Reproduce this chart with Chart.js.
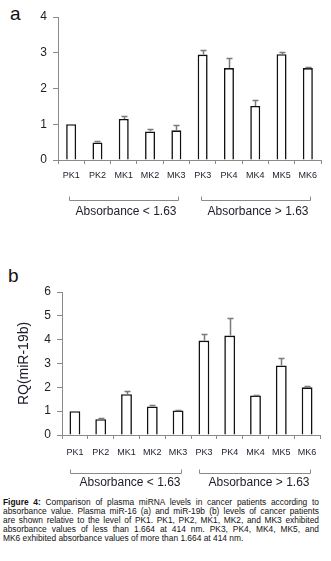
<!DOCTYPE html>
<html>
<head>
<meta charset="utf-8">
<script src="https://cdn.jsdelivr.net/npm/chart.js@4/dist/chart.umd.min.js"></script>
<style>
  html, body { margin: 0; padding: 0; background: #fff; }
  body { width: 331px; height: 561px; position: relative; overflow: hidden; font-family: 'Liberation Sans', Arial, sans-serif; }
  canvas { position: absolute; left: 0; }
  #ca { top: 0; }
  #cb { top: 240px; }
  .panel { position: absolute; font-size: 19px; line-height: 19px; color: #111; }
  #caption { position: absolute; left: 3px; top: 498px; width: 316px; font-size: 8.4px; line-height: 9.1px; color: #111; }
  #caption div { text-align: justify; text-align-last: justify; white-space: nowrap; }
  #caption div.last { text-align-last: left; }
</style>
</head>
<body>
<div class="panel" style="left:10px; top:4px;">a</div>
<div class="panel" style="left:8px; top:266px;">b</div>
<canvas id="ca" width="331" height="230"></canvas>
<canvas id="cb" width="331" height="252"></canvas>
<div id="caption">
  <div><b>Figure 4:</b> Comparison of plasma miRNA levels in cancer patients according to</div>
  <div>absorbance value. Plasma miR-16 (a) and miR-19b (b) levels of cancer patients</div>
  <div>are shown relative to the level of PK1. PK1, PK2, MK1, MK2, and MK3 exhibited</div>
  <div>absorbance values of less than 1.664 at 414 nm. PK3, PK4, MK4, MK5, and</div>
  <div class="last">MK6 exhibited absorbance values of more than 1.664 at 414 nm.</div>
</div>
<script>
const categories = ['PK1', 'PK2', 'MK1', 'MK2', 'MK3', 'PK3', 'PK4', 'MK4', 'MK5', 'MK6'];
const mir16 = [1.0, 0.49, 1.15, 0.80, 0.83, 2.95, 2.57, 1.51, 2.96, 2.57];
const mir16Err = [0, 0.05, 0.07, 0.08, 0.14, 0.13, 0.29, 0.18, 0.06, 0.03];
const mir19b = [1.0, 0.66, 1.71, 1.20, 1.03, 3.96, 4.17, 1.66, 2.92, 2.00];
const mir19bErr = [0, 0.04, 0.12, 0.07, 0.02, 0.28, 0.75, 0.03, 0.30, 0.06];
const yMaxA = 4;
const yMaxB = 6;
const groupLabels = ['Absorbance < 1.63', 'Absorbance > 1.63'];
const groupFrom = [0, 5];
const groupTo = [4, 9];
const yTitleB = 'RQ(miR-19b)';

const FONT = "'Liberation Sans', Arial, sans-serif";
const AXIS = '#8a8a8a';
const TXT = '#1c1c2a';

const errorBarPlugin = {
  id: 'errbars',
  afterDatasetsDraw(chart, args, opts) {
    const { ctx, scales: { x, y } } = chart;
    const data = chart.data.datasets[0].data;
    ctx.save();
    ctx.strokeStyle = opts.color;
    ctx.lineWidth = opts.width;
    data.forEach((v, i) => {
      const e = opts.errors[i];
      if (!e) return;
      const px = Math.round(x.getPixelForValue(i)) + 0.5;
      const y0 = y.getPixelForValue(v);
      const y1 = Math.round(y.getPixelForValue(v + e)) + 0.5;
      ctx.beginPath();
      ctx.moveTo(px, y0);
      ctx.lineTo(px, y1);
      ctx.moveTo(px - opts.cap, y1);
      ctx.lineTo(px + opts.cap, y1);
      ctx.stroke();
    });
    ctx.restore();
  }
};

const bracketPlugin = {
  id: 'brackets',
  afterDraw(chart, args, opts) {
    const { ctx, scales: { x }, chartArea } = chart;
    ctx.save();
    ctx.strokeStyle = AXIS;
    ctx.lineWidth = 1;
    ctx.fillStyle = TXT;
    ctx.font = '12px ' + FONT;
    ctx.textAlign = 'center';
    ctx.textBaseline = 'middle';
    const by = Math.round(chartArea.bottom + opts.bracketDy) + 0.5;
    groupLabels.forEach((lab, g) => {
      const x1 = Math.round(x.getPixelForValue(groupFrom[g]) - opts.padL) + 0.5;
      const x2 = Math.round(x.getPixelForValue(groupTo[g]) + opts.padR) + 0.5;
      ctx.beginPath();
      ctx.moveTo(x1, by - 4);
      ctx.lineTo(x1, by);
      ctx.lineTo(x2, by);
      ctx.lineTo(x2, by - 4);
      ctx.stroke();
      ctx.fillText(lab, (x1 + x2) / 2 + opts.labelDx, chartArea.bottom + opts.labelDy);
    });
    ctx.restore();
  }
};

function makeChart(id, values, errs, yMax, cfg) {
  return new Chart(document.getElementById(id), {
    type: 'bar',
    data: {
      labels: categories,
      datasets: [{
        data: values,
        backgroundColor: '#ffffff',
        borderColor: '#111111',
        borderWidth: 1.6,
        borderSkipped: 'bottom',
        barPercentage: cfg.barPct,
        categoryPercentage: 1.0
      }]
    },
    options: {
      responsive: false,
      animation: false,
      devicePixelRatio: 1,
      layout: { padding: { top: cfg.top, right: cfg.right, left: 0, bottom: 0 } },
      plugins: {
        legend: { display: false },
        tooltip: { enabled: false },
        errbars: { errors: errs, color: '#7a7a7a', width: 1.5, cap: 3 },
        brackets: cfg.brackets
      },
      scales: {
        x: {
          grid: { display: true, drawOnChartArea: false, drawTicks: true, tickLength: 4, color: AXIS, offset: true },
          border: { display: true, color: AXIS, width: 1 },
          ticks: { color: TXT, font: { family: FONT, size: 9 }, padding: cfg.xPad, maxRotation: 0, autoSkip: false },
          afterFit(scale) { scale.height = cfg.xHeight; }
        },
        y: {
          min: 0,
          max: yMax,
          grid: { display: true, drawOnChartArea: false, drawTicks: true, tickLength: 5, color: AXIS },
          border: { display: true, color: AXIS, width: 1 },
          ticks: { stepSize: 1, color: TXT, font: { family: FONT, size: 12 }, padding: 6 },
          title: cfg.title || { display: false },
          afterFit(scale) { scale.width = cfg.yWidth; }
        }
      }
    },
    plugins: [errorBarPlugin, bracketPlugin]
  });
}

makeChart('ca', mir16, mir16Err, yMaxA, {
  top: 17, right: 10, yWidth: 58, xHeight: 70, xPad: 6, barPct: 0.38,
  brackets: { bracketDy: 40, labelDy: 52, padL: 2, padR: 2, labelDx: 2 }
});

makeChart('cb', mir19b, mir19bErr, yMaxB, {
  top: 52, right: 11, yWidth: 62, xHeight: 57, xPad: 8, barPct: 0.42,
  title: { display: true, text: yTitleB, color: TXT, font: { family: FONT, size: 14 }, padding: { top: 16, bottom: 0 } },
  brackets: { bracketDy: 38, labelDy: 48, padL: 5, padR: 3, labelDx: 4 }
});
</script>
</body>
</html>
